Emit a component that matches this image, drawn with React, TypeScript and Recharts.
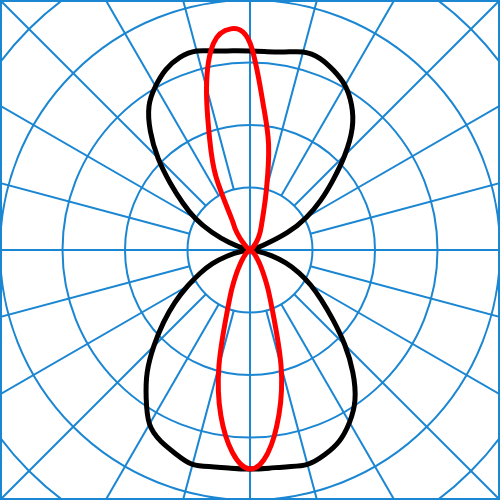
import { RadarChart, Radar, PolarGrid, PolarAngleAxis, PolarRadiusAxis, Curve } from "recharts";

// gamma angle, degrees clockwise from the top of the diagram
const GAMMA = [
  0, 5, 10, 15, 20, 25, 30, 35, 40, 45, 50, 55, 60, 65, 70, 75, 80, 85,
  90, 95, 100, 105, 110, 115, 120, 125, 130, 135, 140, 145, 150, 155, 160, 165, 170, 175,
  180, 185, 190, 195, 200, 205, 210, 215, 220, 225, 230, 235, 240, 245, 250, 255, 260, 265,
  270, 275, 280, 285, 290, 295, 300, 305, 310, 315, 320, 325, 330, 335, 340, 345, 350, 355,
];

// wide (batwing) distribution
const BLACK = [
  199, 199, 201, 205, 204, 198, 190, 177, 159, 134, 108, 86, 65, 41, 14, 3, 0, 0,
  0, 0, 8, 22, 38, 54, 70, 87, 108, 134, 160, 183, 199, 211, 218, 222, 220, 219,
  219, 219, 220, 222, 217, 211, 201, 181, 160, 136, 113, 92, 72, 55, 40, 24, 9, 0,
  0, 0, 0, 6, 22, 42, 63, 82, 104, 130, 155, 176, 189, 199, 205, 206, 202, 200,
];

// narrow distribution
const RED = [
  207, 148, 107, 64, 39, 27, 20, 14, 9, 5, 3, 0, 0, 0, 0, 0, 0, 0,
  0, 0, 0, 0, 0, 0, 0, 0, 4, 7, 11, 17, 26, 42, 67, 120, 167, 204,
  219, 203, 168, 120, 68, 43, 27, 17, 11, 7, 4, 0, 0, 0, 0, 0, 0, 0,
  0, 0, 0, 0, 0, 0, 0, 0, 3, 8, 16, 26, 38, 80, 118, 168, 210, 222,
];

const RINGS = [62.5, 125, 187.5, 250, 312.5];
const SPOKES = [0, 15, 30, 45, 60, 75, 90, 105, 120, 135, 150, 165, 180, 195, 210, 225, 240, 255, 270, 285, 300, 315, 330, 345];
const AXES = [0, 90, 180, 270];

const GRID_BLUE = "#1b86d2";

const rows = GAMMA.map((g, i) => ({ gamma: g, black: BLACK[i], red: RED[i] }));

const layer: React.CSSProperties = { position: "absolute", left: 0, top: 0 };

// Radar draws a polygon; run a spline through its points instead.
// The seam goes on the east side, where both curves sit in the centre.
function SmoothShape(props: any) {
  const pts = (props.points ?? []) as { x: number; y: number }[];
  const start = Math.round(pts.length / 4);
  const ordered = [...pts.slice(start), ...pts.slice(0, start + 1)];
  const clean = ordered.filter(
    (p, i) => i === 0 || Math.hypot(p.x - ordered[i - 1].x, p.y - ordered[i - 1].y) > 0.5
  );
  return (
    <Curve
      type="natural"
      points={clean}
      stroke={props.stroke}
      strokeWidth={props.strokeWidth}
      fill="none"
      strokeLinejoin="round"
      strokeLinecap="round"
    />
  );
}

export default function App() {
  return (
    <div style={{ position: "absolute", left: 0, top: 0, width: 500, height: 500, background: "#fff", overflow: "hidden" }}>
      {/* spokes start at the first ring */}
      <div style={layer}>
        <RadarChart width={500} height={500} cx={250} cy={250} innerRadius={62.5} outerRadius={380} data={rows} margin={{ top: 0, right: 0, bottom: 0, left: 0 }}>
          <PolarGrid gridType="circle" polarAngles={SPOKES} polarRadius={RINGS} stroke={GRID_BLUE} strokeWidth={2} strokeOpacity={1} />
          <PolarAngleAxis dataKey="gamma" tick={false} tickLine={false} axisLine={false} />
        </RadarChart>
      </div>
      <div style={layer}>
        <RadarChart width={500} height={500} cx={250} cy={250} innerRadius={0} outerRadius={250} data={rows} margin={{ top: 0, right: 0, bottom: 0, left: 0 }}>
          <PolarGrid gridType="circle" polarAngles={AXES} polarRadius={[]} stroke={GRID_BLUE} strokeWidth={2} strokeOpacity={1} />
          <PolarAngleAxis dataKey="gamma" tick={false} tickLine={false} axisLine={false} />
          <PolarRadiusAxis domain={[0, 250]} tick={false} axisLine={false} tickLine={false} />
          <Radar dataKey="black" stroke="#000" strokeWidth={5} fill="none" fillOpacity={0} dot={false} shape={SmoothShape} isAnimationActive={false} />
          <Radar dataKey="red" stroke="#f00" strokeWidth={5} fill="none" fillOpacity={0} dot={false} shape={SmoothShape} isAnimationActive={false} />
        </RadarChart>
      </div>
      <div style={{ ...layer, width: 500, height: 500, boxSizing: "border-box", border: `2px solid ${GRID_BLUE}`, pointerEvents: "none" }} />
    </div>
  );
}
